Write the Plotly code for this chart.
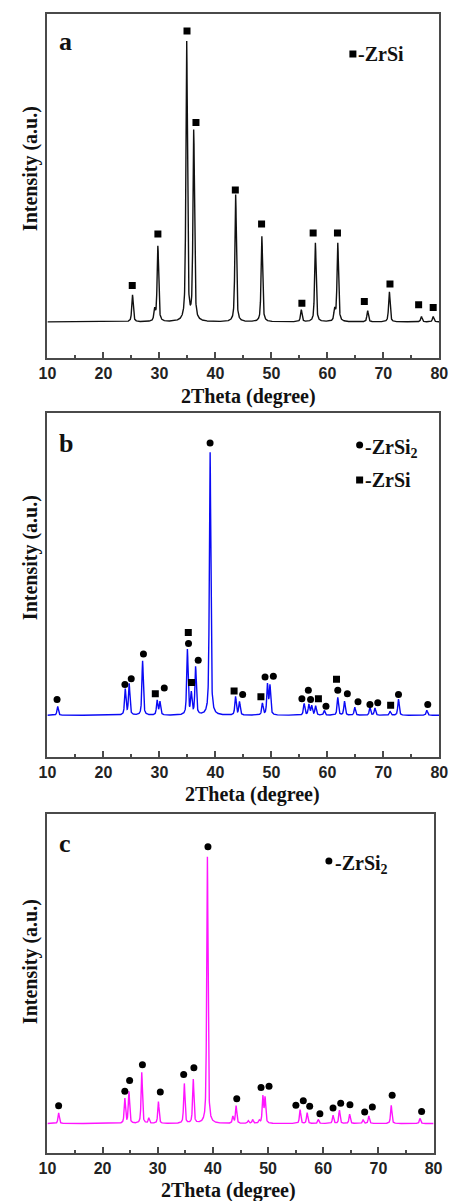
import numpy as np
import plotly.graph_objects as go

W, H = 457, 1201

# ---------------- data ----------------
# 2-theta sampling grid (degree)
two_theta = np.arange(10.0, 80.0001, 0.02)

# (a) ZrSi sample: reflection positions (deg) and peak intensities (a.u.)
a_peak_pos = [25.2, 29.15, 29.73, 34.87, 36.13, 43.62, 48.3, 55.34, 57.86,
              61.3, 61.86, 67.2, 71.07, 76.8, 78.9]
a_peak_int = [96, 40, 270, 1000, 680, 454, 305, 43, 282,
              40, 280, 40, 108, 19, 19]
a_fwhm = 0.32
# ZrSi reflection markers (deg, a.u.)
a_zrsi_x = [25.15, 29.73, 34.93, 36.53, 43.56, 48.25, 55.45, 57.46, 61.8,
            66.6, 71.18, 76.3, 78.9]
a_zrsi_y = [130, 314, 1039, 712, 471, 350, 67, 318, 318, 73, 135, 61, 51]

# (b) ZrSi2 + ZrSi sample
b_peak_pos = [11.83, 23.9, 24.6, 27.0, 29.6, 30.1, 35.0, 35.7, 36.47, 39.05,
              43.6, 44.3, 48.4, 49.3, 49.75, 55.85, 56.7, 57.2, 57.9, 59.45,
              61.86, 63.06, 64.9, 67.6, 68.5, 71.2, 72.7, 77.76]
b_peak_int = [34, 98, 118, 206, 55, 50, 247, 80, 181, 1000,
              70, 50, 44, 115, 110, 44, 40, 35, 35, 18,
              67, 53, 30, 30, 27, 15, 61, 19]
b_fwhm = 0.30
b_zrsi2_x = [11.72, 23.84, 24.97, 27.15, 30.87, 35.2, 36.93, 39.05, 44.87,
             48.87, 50.35, 55.45, 56.6, 57.0, 59.75, 61.86, 63.57, 65.47,
             67.6, 69.0, 72.7, 77.93]
b_zrsi2_y = [60, 117, 139, 232, 104, 272, 209, 1032, 79,
             145, 148, 63, 95, 60, 34, 95, 82, 51,
             41, 48, 79, 41]
b_zrsi_x = [29.27, 35.16, 35.73, 43.34, 48.13, 58.4, 61.63, 71.3]
b_zrsi_y = [82, 314, 124, 92, 70, 63, 137, 38]

# (c) ZrSi2 sample
c_peak_pos = [12.03, 24.03, 24.78, 27.1, 28.38, 30.12, 34.81, 36.43, 38.99,
              43.62, 44.2, 46.4, 47.2, 48.4, 49.05, 49.45, 55.8, 57.08, 59.1,
              61.77, 62.93, 64.78, 67.22, 68.26, 72.32, 77.54]
c_peak_int = [40, 93, 118, 191, 20, 81, 149, 164, 1000,
              25, 66, 10, 14, 10, 100, 95, 52, 40, 15,
              31, 50, 35, 13, 28, 68, 19]
c_fwhm = 0.28
c_zrsi2_x = [12.03, 24.03, 24.9, 27.22, 30.46, 34.7, 36.55, 39.1, 44.32,
             48.72, 50.17, 55.04, 56.38, 57.54, 59.39, 61.77, 63.16, 64.84,
             67.51, 68.9, 72.49, 77.83]
c_zrsi2_y = [66, 121, 161, 220, 118, 183, 208, 1034, 93,
             135, 139, 68, 85, 65, 37, 58, 76, 70,
             43, 62, 106, 45]

x_ticks = [10, 20, 30, 40, 50, 60, 70, 80]


def profile(pos, inten, fwhm, eta=0.6):
    """Sum of pseudo-Voigt reflections on the 2-theta grid."""
    y = np.zeros_like(two_theta)
    for p, h in zip(pos, inten):
        d = (two_theta - p) / (fwhm / 2.0)
        y += h * (eta / (1.0 + d ** 2) + (1 - eta) * np.exp(-np.log(2) * d ** 2))
    return y


def px(x):
    return x / W


def py(y):
    return 1 - y / H


SERIF = "Liberation Serif"
SANS = "Liberation Sans"
INK = "#111111"
FRAME = "#4a4a4a"

fig = go.Figure()

panels = [
    # name, profile, colour, x-domain px, y-domain px, y-range
    ("a", profile(a_peak_pos, a_peak_int, a_fwhm), "#111111", (40, 448), (14, 358), (-129, 1100)),
    ("b", profile(b_peak_pos, b_peak_int, b_fwhm), "#0a0af5", (40, 448), (413, 757), (-158, 1146)),
    ("c", profile(c_peak_pos, c_peak_int, c_fwhm), "#ff14ff", (40, 442), (814, 1153), (-110, 1156)),
]

for i, (name, yprof, col, xd, yd, yr) in enumerate(panels):
    k = "" if i == 0 else str(i + 1)
    fig.add_trace(go.Scatter(x=two_theta, y=yprof, mode="lines",
                             line=dict(color=col, width=1.4),
                             xaxis="x" + k, yaxis="y" + k, showlegend=False,
                             hoverinfo="skip"))
    fig.layout["xaxis" + k] = dict(
        domain=[px(xd[0]), px(xd[1])], anchor="y" + k, range=[10, 80],
        tickvals=x_ticks, ticks="inside", ticklen=6, tickwidth=1.5,
        tickcolor=FRAME,
        minor=dict(dtick=5, tick0=10, ticks="inside", ticklen=3,
                   tickwidth=1.5, tickcolor=FRAME),
        showline=True, mirror=True, linecolor=FRAME, linewidth=1.5,
        showgrid=False, zeroline=False,
        tickfont=dict(family=SANS, size=16, color="#222222", weight="bold"),
    )
    fig.layout["yaxis" + k] = dict(
        domain=[py(yd[1]), py(yd[0])], anchor="x" + k, range=list(yr),
        showticklabels=False, ticks="", showline=True, mirror=True,
        linecolor=FRAME, linewidth=1.5, showgrid=False, zeroline=False,
    )

# reflection markers
marker_sets = [
    (a_zrsi_x, a_zrsi_y, "square", "x", "y"),
    (b_zrsi2_x, b_zrsi2_y, "circle", "x2", "y2"),
    (b_zrsi_x, b_zrsi_y, "square", "x2", "y2"),
    (c_zrsi2_x, c_zrsi2_y, "circle", "x3", "y3"),
]
for mx, my, sym, xa, ya in marker_sets:
    fig.add_trace(go.Scatter(x=mx, y=my, mode="markers",
                             marker=dict(symbol=sym, size=7, color="#000000"),
                             xaxis=xa, yaxis=ya, showlegend=False,
                             hoverinfo="skip"))

annotations = []
shapes = []


def text(x, y, s, size, angle=0, xanchor="center", family=SERIF):
    annotations.append(dict(
        x=px(x), y=py(y), xref="paper", yref="paper", text=s,
        showarrow=False, xanchor=xanchor, yanchor="middle", textangle=angle,
        font=dict(family=family, size=size, color=INK, weight="bold"),
    ))


def glyph(x, y, kind, size=7):
    shapes.append(dict(
        type="rect" if kind == "square" else "circle",
        xref="paper", yref="paper", xsizemode="pixel", ysizemode="pixel",
        xanchor=px(x), yanchor=py(y),
        x0=-size / 2, x1=size / 2, y0=-size / 2, y1=size / 2,
        fillcolor="#000000", line=dict(width=0),
    ))


# panel letters
text(50, 41, "a", 26, xanchor="left")
text(50, 443, "b", 26, xanchor="left")
text(50, 843, "c", 26, xanchor="left")

# axis titles
for cy in (169, 558, 962):
    text(22, cy, "Intensity (a.u.)", 20, angle=-90)
for cx, cy in ((249, 396), (254, 794), (228, 1190)):
    text(cx, cy, "2Theta (degree)", 20)

# phase keys
glyph(358, 54, "square")
text(361, 54, "-ZrSi", 20, xanchor="left")
glyph(365, 445, "circle")
text(369, 448, "-ZrSi<sub>2</sub>", 20, xanchor="left")
glyph(365, 480, "square")
text(369, 480, "-ZrSi", 20, xanchor="left")
glyph(333, 861, "circle")
text(337, 864, "-ZrSi<sub>2</sub>", 20, xanchor="left")

fig.update_layout(
    width=W, height=H, margin=dict(l=0, r=0, t=0, b=0),
    paper_bgcolor="white", plot_bgcolor="white",
    annotations=annotations, shapes=shapes, showlegend=False,
)

fig.write_html("out.html")
